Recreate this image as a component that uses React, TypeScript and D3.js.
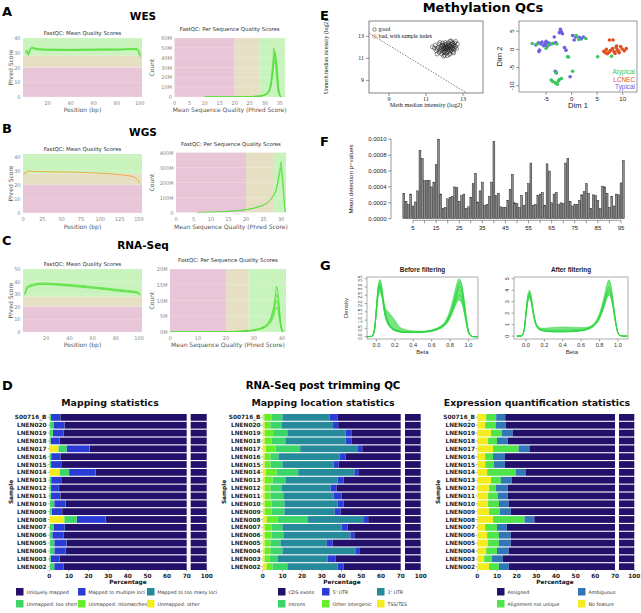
import React from 'react';
import * as d3 from 'd3';

const SANS = "'DejaVu Sans', Verdana, sans-serif";
const HELV = "'Liberation Sans', Arial, Helvetica, sans-serif";
const SERIF = "'Liberation Serif', 'Times New Roman', serif";

const QC_GREEN = '#c8f3bd';
const QC_BEIGE = '#e7dfc4';
const QC_PINK = '#e8c5d7';
const QC_LINE = '#55e03a';
const WGS_LINE = '#f0a22e';

// ===== A: WES =====
const wesMeanPos = [1, 2, 3, 4, 5, 6, 8, 10, 15, 20, 30, 40, 50, 60, 70, 80, 90, 95, 98, 99, 100, 101];
const wesMeanL1 = [30, 31.5, 29, 30.5, 32.8, 33.3, 33, 32.6, 32.2, 32, 32, 31.9, 32, 32.1, 32.2, 32.1, 32.4, 32.5, 32.2, 31, 29, 28];
const wesMeanL2 = [29.5, 30.5, 28, 30, 32.2, 32.8, 32.6, 32.2, 31.8, 31.7, 31.6, 31.5, 31.6, 31.7, 31.8, 31.8, 32.1, 32.2, 31.8, 30.5, 28, 27];
const wesMeanL3 = [30.5, 31.8, 29.5, 31, 33.3, 33.8, 33.4, 33, 32.6, 32.4, 32.4, 32.3, 32.4, 32.5, 32.6, 32.5, 32.8, 32.9, 32.6, 31.5, 29.5, 29];
const wesSeqQ = [10, 15, 20, 22, 24, 26, 28, 29, 30, 30.5, 31, 31.5, 32, 32.5, 33, 33.5, 34, 34.5, 35, 35.5];
const wesSeqL1 = [0, 0.05, 0.1, 0.2, 0.3, 0.5, 1, 1.5, 2.5, 3.5, 5, 8, 15, 30, 50, 38, 15, 4, 0.8, 0];
const wesSeqL2 = [0, 0.05, 0.1, 0.2, 0.3, 0.5, 0.9, 1.3, 2.2, 3, 4.5, 7, 12, 24, 40, 46, 28, 8, 1.5, 0];
const wesSeqL3 = [0, 0.05, 0.1, 0.2, 0.3, 0.5, 0.8, 1.2, 2, 2.8, 4, 6, 11, 22, 36, 44, 35, 12, 2, 0];
const wesSeqL4 = [0, 0.05, 0.1, 0.2, 0.3, 0.4, 0.7, 1, 1.8, 2.5, 3.5, 5.5, 10, 20, 34, 38, 24, 7, 1, 0];

// ===== B: WGS =====
const wgsMeanPos = [1, 2, 3, 5, 8, 10, 15, 20, 30, 40, 50, 60, 70, 80, 90, 100, 110, 120, 130, 140, 145, 148, 150, 151];
const wgsMeanL1 = [27.5, 28.8, 27.8, 29.6, 29.8, 29.7, 29.6, 29.5, 29.4, 29.3, 29.2, 29.1, 29, 28.8, 28.6, 28.3, 28, 27.6, 27, 26.2, 25.3, 24, 22, 21];
const wgsSeqQ = [6, 8, 10, 12, 15, 18, 20, 22, 24, 25, 26, 27, 28, 28.5, 29, 29.5, 30, 30.5, 31, 31.3];
const wgsSeqL1 = [0, 1, 2, 4, 8, 14, 20, 28, 42, 50, 65, 88, 120, 150, 200, 270, 340, 220, 40, 0];
const wgsSeqL2 = [0, 1, 2, 4, 8, 13, 19, 27, 40, 48, 62, 84, 115, 140, 185, 250, 300, 180, 30, 0];

// ===== C: RNA-Seq =====
const rnaMeanPos = [1, 2, 3, 4, 5, 6, 8, 10, 12, 15, 20, 25, 30, 40, 50, 60, 70, 80, 90, 95, 98, 100, 101];
const rnaMeanL1 = [30, 31, 34, 35.5, 36, 36.5, 37, 37.5, 38, 38.2, 38.2, 38, 37.7, 37, 36.3, 35.3, 34.3, 33.3, 32.3, 31.8, 31.3, 30.5, 29.5];
const rnaMeanL2 = [31, 32, 35, 36.3, 36.8, 37.2, 37.7, 38.2, 38.6, 38.8, 38.8, 38.6, 38.3, 37.6, 36.9, 35.9, 34.9, 33.9, 32.9, 32.4, 31.9, 31.2, 30.2];
const rnaMeanL3 = [29.5, 30.5, 33.3, 35, 35.5, 36, 36.5, 37, 37.4, 37.7, 37.7, 37.5, 37.2, 36.5, 35.5, 34.8, 33.8, 32.6, 31.8, 31.3, 30.8, 30, 29];
const rnaSeqQ = [0, 5, 10, 15, 20, 22, 24, 26, 28, 30, 32, 34, 35, 36, 37, 37.5, 38, 38.5, 39, 39.5, 40, 40.5];
const rnaSeqL1 = [0, 0, 0.02, 0.05, 0.1, 0.15, 0.2, 0.3, 0.45, 0.7, 1.1, 2, 3, 4.5, 8, 11, 14.5, 13, 8, 3, 0.5, 0];
const rnaSeqL2 = [0, 0, 0.02, 0.05, 0.1, 0.14, 0.18, 0.27, 0.4, 0.62, 1, 1.8, 2.7, 4, 7, 9.5, 12, 11, 7, 2.5, 0.4, 0];
const rnaSeqL3 = [0, 0, 0.02, 0.04, 0.08, 0.12, 0.16, 0.24, 0.36, 0.55, 0.9, 1.6, 2.4, 3.5, 6, 8.5, 10, 9, 5.5, 2, 0.3, 0];
const rnaSeqL4 = [0, 0, 0.02, 0.04, 0.07, 0.1, 0.14, 0.2, 0.3, 0.5, 0.8, 1.4, 2.1, 3, 5, 7, 8, 7, 4.5, 1.6, 0.3, 0];

// ===== D: RNA-Seq post trimming QC =====
const samples = ['S00716_B', 'LNEN020', 'LNEN019', 'LNEN018', 'LNEN017', 'LNEN016', 'LNEN015', 'LNEN014', 'LNEN013', 'LNEN012', 'LNEN011', 'LNEN010', 'LNEN009', 'LNEN008', 'LNEN007', 'LNEN006', 'LNEN005', 'LNEN004', 'LNEN003', 'LNEN002'];
const mapUnmappedOther = [0.2, 0.3, 0.2, 0.1, 4.7, 0.2, 0.2, 5.3, 0.2, 0.1, 0.1, 0.4, 0.2, 7.7, 0.3, 0.2, 0.4, 0.4, 0.1, 0.4];
const mapUnmappedShort = [0.6, 1.8, 1.6, 0.6, 4.1, 0.7, 0.6, 4.7, 0.7, 0.7, 0.7, 2.1, 1.0, 6.3, 1.8, 1.3, 2.1, 2.1, 0.6, 2.1];
const mapUnmappedMismatch = [0.1, 0.1, 0.1, 0.1, 0.1, 0.1, 0.1, 0.1, 0.1, 0.1, 0.1, 0.1, 0.1, 0.1, 0.1, 0.1, 0.1, 0.1, 0.1, 0.1];
const mapMultiple = [4.7, 5.5, 5.5, 4.5, 11.6, 4.6, 5.1, 13.4, 5.0, 4.0, 4.7, 5.6, 5.2, 14.7, 5.7, 5.8, 6.2, 5.8, 4.5, 4.8];
const mapTooMany = [0.1, 0.1, 0.1, 0.1, 0.1, 0.1, 0.1, 0.1, 0.1, 0.1, 0.1, 0.1, 0.1, 0.1, 0.1, 0.1, 0.1, 0.1, 0.1, 0.1];
const mapUnique = [94.3, 92.2, 92.5, 94.6, 79.4, 94.3, 93.9, 76.4, 93.9, 95.0, 94.3, 91.7, 93.4, 71.1, 92.0, 92.5, 91.1, 91.5, 94.6, 92.5];
const locTss = [0.8, 1, 1, 1, 1.5, 1, 1, 1.5, 1, 1, 1, 1, 1, 2, 1, 1, 1, 1, 1, 2];
const locIntergenic = [3.7, 3, 4.3, 3.5, 5, 3, 3, 5.5, 4, 3, 3, 3.5, 3.5, 5.5, 3.5, 3.5, 3, 3, 2.5, 3];
const locIntrons = [5.5, 5.5, 7.2, 7, 12.5, 4, 6, 11, 6.5, 5.5, 6.5, 6.5, 6.5, 15.5, 5.5, 6, 5, 6, 4, 7.5];
const locUtr3 = [24, 26.2, 29.5, 30.5, 29, 31, 26, 28.5, 26.5, 25, 25.5, 27, 25.5, 28, 30, 34, 23.5, 37, 25.5, 25.5];
const locUtr5 = [4, 2.6, 3, 3, 2.5, 3, 2.5, 2, 3, 3, 4, 3, 3, 2.5, 3, 2, 3, 2, 4, 3];
const locCds = [62, 61.7, 55, 55, 49.5, 58, 61.5, 51.5, 59, 62.5, 60, 59, 60.5, 46.5, 57, 53.5, 64.5, 51, 63, 59];
const exNoFeature = [4.5, 4, 7, 5.5, 8, 4, 4, 5, 7, 6, 5.5, 5.5, 6, 8, 4, 5, 5.5, 4.5, 3.5, 6];
const exNotUnique = [5.1, 5.5, 5.5, 4.5, 13, 4, 4.5, 14.5, 5, 3.5, 5, 5.5, 5.5, 16, 6, 6, 5.5, 5.5, 4, 5];
const exAmbiguous = [4.6, 5, 5.5, 5.5, 5.5, 6, 5.5, 5, 5.5, 6, 5, 5, 5.5, 5, 5, 6, 6, 6, 5.5, 5];
const exAssigned = [85.8, 85.5, 82, 84.5, 73.5, 86, 86, 75.5, 82.5, 84.5, 84.5, 84, 83, 71, 85, 83, 83, 84, 87, 84];
const pctTicks = [0, 10, 20, 30, 40, 50, 60, 70];

// ===== E: Methylation QC =====
const eGoodX = [11.35, 11.45, 11.5, 11.55, 11.6, 11.65, 11.7, 11.7, 11.75, 11.8, 11.8, 11.85, 11.85, 11.9, 11.9, 11.95, 11.95, 12.0, 12.0, 12.0, 12.05, 12.05, 12.1, 12.1, 12.1, 12.15, 12.15, 12.2, 12.2, 12.2, 12.25, 12.25, 12.3, 12.3, 12.3, 12.35, 12.35, 12.4, 12.4, 12.4, 12.45, 12.45, 12.5, 12.5, 12.55, 12.55, 12.6, 12.6, 12.65, 12.7, 11.95, 12.15, 12.25, 11.75, 11.6, 12.05, 12.5, 12.35, 11.9, 12.2, 12.0, 12.1, 12.3, 11.85, 12.45];
const eGoodY = [12.05, 11.95, 12.2, 11.7, 11.85, 12.0, 11.55, 12.3, 11.8, 11.65, 12.05, 11.4, 11.9, 12.15, 11.75, 11.55, 12.0, 11.85, 12.25, 11.3, 11.7, 12.05, 11.9, 11.5, 12.3, 11.8, 12.1, 11.6, 11.95, 12.4, 11.75, 12.15, 11.9, 11.45, 12.55, 12.05, 11.7, 12.25, 11.85, 12.45, 11.6, 12.0, 12.2, 11.8, 12.4, 11.95, 12.1, 12.55, 11.9, 12.3, 11.2, 11.25, 11.35, 12.45, 11.4, 12.45, 11.5, 12.6, 12.4, 12.2, 11.6, 12.0, 12.1, 12.2, 12.35];
const eCutoffX = [7.92, 13.2];
const eCutoffY = [13.3, 7.86];
const mdsTypicalX = [-7.0, -6.5, -6.0, -5.5, -5.8, -5.2, -4.9, -4.5, -4.2, -5.0, -4.8, -6.3, -6.4, -3.6, -3.1, -2.2, -2.0, -2.4, -1.8, -2.1, 0.2, 0.8, 1.5, 1.9, 0.5, 2.3, -1.4, -1.1, -3.2, -3.0, -0.3, -3.4];
const mdsTypicalY = [1.2, 1.8, 1.5, 1.0, 2.0, 1.6, 1.2, 1.8, 1.4, 2.2, 0.8, -0.2, -0.6, 1.6, 1.9, 5.5, 4.8, 4.6, 4.3, 5.0, 3.8, 3.4, 3.3, 2.9, 2.6, 3.4, 0.5, -0.2, -6.0, -6.5, -7.5, 3.4];
const mdsAtypicalX = [-7.7, -5.0, -4.5, -6.8, -3.8, -2.9, 2.8, 0.9, 1.4, -0.8, -0.6, -3.7, -3.2, -2.8, -2.4, -2.0, -3.0, 0.2, 5.1, 7.8, -4.0, -2.6];
const mdsAtypicalY = [1.6, 0.3, 1.2, 1.4, 1.6, 1.5, 3.0, 3.8, 2.7, -2.0, -2.1, -8.8, -9.2, -9.6, -8.3, -8.0, -6.3, -6.0, -2.0, -1.9, -8.4, -8.7];
const mdsLcnecX = [6.3, 6.8, 7.3, 7.6, 8.0, 8.3, 8.7, 9.0, 9.3, 9.6, 9.9, 10.3, 10.7, 8.5, 7.0, 7.4, 8.1, 9.2, 6.6, 8.8];
const mdsLcnecY = [-0.5, 0.0, -0.8, -0.3, 0.2, -0.6, 0.5, -0.2, -0.9, 0.8, 0.1, -0.4, 0.2, -1.1, -1.2, 2.6, 2.6, -0.5, -0.9, 0.9];

// ===== F: Mean detection p-values =====
const detP = [0.00032, 0.00022, 0.00018, 0.00031, 0.00016, 0.00021, 0.00035, 0.00086, 0.00076, 0.00048, 0.00048, 0.00048, 0.0004, 0.00046, 0.00068, 0.001,
  0.00031, 0.00013, 0.00014, 0.00025, 0.00027, 0.00028, 0.0004, 0.00039, 0.00022, 0.00029, 0.00031, 0.00013, 0.00015, 0.00027, 0.00044, 0.00057,
  0.00021, 0.00035, 0.00046, 0.00017, 0.00018, 0.00028, 0.00046, 0.00097, 0.00029, 0.00032, 0.00015, 0.00014, 0.00014, 0.00023, 0.00037, 0.00056,
  0.0002, 0.00019, 0.00014, 0.00029, 0.00017, 0.00033, 0.00044, 0.0007, 0.00017, 0.00018, 0.00029, 0.00031, 0.00033, 0.00017, 0.00069, 0.0006,
  0.0002, 0.00031, 0.00033, 0.00018, 0.0002, 0.00019, 0.0007, 0.00076, 0.00022, 0.00016, 0.00018, 0.00018, 0.00023, 0.0003, 0.00034, 0.00044,
  0.00032, 0.00013, 0.0003, 0.00029, 0.00023, 0.00013, 0.00041, 0.0004, 0.00032, 0.00014, 0.00028, 0.00016, 0.00031, 0.0003, 0.00045, 0.00073];
const detPTicks = [0, 0.0002, 0.0004, 0.0006, 0.0008, 0.001];
const detPTickLabels = ['0.0000', '0.0002', '0.0004', '0.0006', '0.0008', '0.0010'];

// ===== G: Beta densities =====
const betaX = [-0.1, -0.05, -0.02, 0, 0.02, 0.04, 0.06, 0.08, 0.1, 0.13, 0.16, 0.2, 0.25, 0.3, 0.4, 0.5, 0.6, 0.65, 0.7, 0.75, 0.8, 0.83, 0.86, 0.88, 0.9, 0.92, 0.94, 0.96, 0.98, 1.0, 1.03, 1.06, 1.1];
const beforeD1 = [0, 0.02, 0.5, 1.8, 3.1, 3.45, 3.0, 2.2, 1.5, 0.9, 0.6, 0.42, 0.33, 0.3, 0.28, 0.3, 0.4, 0.5, 0.65, 0.95, 1.6, 2.2, 2.9, 3.3, 3.5, 3.3, 2.7, 1.8, 1.0, 0.35, 0.05, 0, 0];
const beforeD2 = [0, 0.02, 0.45, 1.7, 2.9, 3.2, 2.7, 1.9, 1.3, 0.8, 0.55, 0.4, 0.32, 0.28, 0.27, 0.29, 0.37, 0.46, 0.6, 0.85, 1.4, 1.9, 2.5, 2.9, 3.1, 3.0, 2.5, 1.7, 0.9, 0.3, 0.04, 0, 0];
const beforeD3 = [0, 0.02, 0.4, 1.6, 2.7, 3.0, 2.5, 1.7, 1.1, 0.7, 0.5, 0.38, 0.3, 0.27, 0.26, 0.28, 0.35, 0.42, 0.55, 0.75, 1.2, 1.65, 2.2, 2.6, 2.8, 2.75, 2.3, 1.6, 0.85, 0.3, 0.04, 0, 0];
const beforeD4 = [0, 0.02, 0.45, 1.65, 2.8, 3.1, 2.6, 1.8, 1.2, 0.75, 0.5, 0.36, 0.28, 0.25, 0.24, 0.26, 0.32, 0.4, 0.5, 0.7, 1.1, 1.5, 2.0, 2.35, 2.5, 2.45, 2.1, 1.5, 0.8, 0.3, 0.04, 0, 0];
const beforeD5 = [0, 0.02, 0.4, 1.5, 2.6, 2.9, 2.45, 1.75, 1.2, 0.8, 0.58, 0.45, 0.36, 0.3, 0.28, 0.3, 0.38, 0.46, 0.6, 0.85, 1.35, 1.75, 2.2, 2.45, 2.5, 2.3, 1.9, 1.3, 0.7, 0.25, 0.03, 0, 0];
const beforeD6 = [0, 0.02, 0.4, 1.4, 2.4, 2.7, 2.4, 2.0, 1.7, 1.5, 1.3, 1.0, 0.6, 0.45, 0.35, 0.33, 0.4, 0.48, 0.6, 0.8, 1.2, 1.55, 1.9, 2.1, 2.2, 2.1, 1.8, 1.3, 0.7, 0.25, 0.03, 0, 0];
const beforeD7 = [0, 0.02, 0.5, 1.75, 3.0, 3.3, 2.8, 2.0, 1.35, 0.85, 0.58, 0.4, 0.31, 0.27, 0.25, 0.27, 0.34, 0.42, 0.56, 0.8, 1.3, 1.8, 2.4, 2.8, 3.0, 2.95, 2.6, 1.9, 1.05, 0.4, 0.06, 0, 0];
const beforeD8 = [0, 0.02, 0.42, 1.6, 2.75, 3.05, 2.55, 1.8, 1.2, 0.75, 0.52, 0.37, 0.29, 0.26, 0.25, 0.27, 0.33, 0.41, 0.54, 0.78, 1.25, 1.75, 2.35, 2.8, 3.3, 3.25, 2.75, 1.9, 1.0, 0.35, 0.05, 0, 0];
const afterD1 = [0, 0.02, 0.6, 2.2, 3.6, 4.0, 3.4, 2.3, 1.4, 0.8, 0.6, 0.5, 0.45, 0.43, 0.42, 0.44, 0.52, 0.6, 0.8, 1.2, 2.0, 2.8, 3.8, 4.5, 4.9, 4.6, 3.6, 2.3, 1.1, 0.35, 0.05, 0, 0];
const afterD2 = [0, 0.02, 0.55, 2.0, 3.4, 3.8, 3.2, 2.1, 1.3, 0.75, 0.55, 0.47, 0.42, 0.4, 0.4, 0.42, 0.5, 0.58, 0.75, 1.1, 1.8, 2.5, 3.4, 4.0, 4.3, 4.1, 3.3, 2.1, 1.0, 0.32, 0.04, 0, 0];
const afterD3 = [0, 0.02, 0.5, 1.9, 3.2, 3.6, 3.0, 2.0, 1.2, 0.7, 0.52, 0.45, 0.4, 0.38, 0.38, 0.4, 0.47, 0.55, 0.7, 1.0, 1.65, 2.3, 3.1, 3.6, 3.9, 3.75, 3.0, 1.95, 0.95, 0.3, 0.04, 0, 0];
const afterD4 = [0, 0.02, 0.45, 1.75, 3.0, 3.35, 2.8, 1.85, 1.1, 0.65, 0.5, 0.43, 0.38, 0.36, 0.36, 0.38, 0.45, 0.52, 0.66, 0.95, 1.5, 2.1, 2.8, 3.3, 3.55, 3.4, 2.75, 1.8, 0.9, 0.28, 0.04, 0, 0];
const afterD5 = [0, 0.02, 0.5, 1.85, 3.1, 3.5, 2.95, 2.0, 1.25, 0.75, 0.58, 0.52, 0.5, 0.5, 0.52, 0.55, 0.6, 0.66, 0.8, 1.1, 1.7, 2.35, 3.15, 3.7, 4.0, 3.8, 3.0, 1.9, 0.9, 0.28, 0.03, 0, 0];
const afterD6 = [0, 0.02, 0.52, 1.95, 3.3, 3.7, 3.1, 2.05, 1.25, 0.72, 0.54, 0.46, 0.41, 0.39, 0.39, 0.41, 0.49, 0.57, 0.73, 1.05, 1.75, 2.45, 3.3, 3.9, 4.2, 4.0, 3.2, 2.05, 0.98, 0.31, 0.04, 0, 0];
const afterD7 = [0, 0.02, 0.5, 1.8, 3.0, 3.3, 2.85, 2.0, 1.3, 0.85, 0.7, 0.68, 0.72, 0.76, 0.8, 0.78, 0.74, 0.75, 0.85, 1.1, 1.6, 2.2, 2.9, 3.4, 3.7, 3.5, 2.8, 1.8, 0.9, 0.28, 0.03, 0, 0];

// ---------- components ----------
type QcProps = {
  box: [number, number, number, number];
  xDom: [number, number]; yDom: [number, number];
  bandAxis: 'x' | 'y';
  xTicks: number[]; yTicks: number[]; yTickText: string[];
  xs: number[]; lines: number[][]; scale: number; color: string; lineWidth: number; smooth: boolean;
  title: string; titleY: number; xLabel: string; yLabel: string; yLabelX: number;
  tickY: number; xLabelY: number;
};

function QcPlot(p: QcProps) {
  const [x0, y0, x1, y1] = p.box;
  const x = d3.scaleLinear().domain(p.xDom).range([x0, x1]);
  const y = d3.scaleLinear().domain(p.yDom).range([y1, y0]);
  const bands = [
    { lo: 28, hi: Infinity, c: QC_GREEN },
    { lo: 20, hi: 28, c: QC_BEIGE },
    { lo: -Infinity, hi: 20, c: QC_PINK },
  ];
  const line = d3.line<number>()
    .x((_, i) => x(p.xs[i]))
    .y(d => y(d * p.scale))
    .curve(p.smooth ? d3.curveMonotoneX : d3.curveLinear);
  const cx = (x0 + x1) / 2;
  const cid = `clip${Math.round(x0)}_${Math.round(y0)}`;
  return (
    <g>
      {bands.map((b, i) => {
        if (p.bandAxis === 'y') {
          const top = y(Math.min(b.hi, p.yDom[1]));
          const bot = y(Math.max(b.lo, p.yDom[0]));
          return <rect key={i} x={x0} y={top} width={x1 - x0} height={bot - top} fill={b.c} />;
        }
        const l = x(Math.max(b.lo, p.xDom[0]));
        const r = x(Math.min(b.hi, p.xDom[1]));
        return <rect key={i} x={l} y={y0} width={r - l} height={y1 - y0} fill={b.c} />;
      })}
      {p.yTicks.map((t, i) => (
        <line key={'g' + i} x1={x0} x2={x1} y1={y(t)} y2={y(t)} stroke="#ffffff" strokeOpacity={0.35} strokeWidth={0.6} />
      ))}
      <clipPath id={cid}><rect x={x0} y={y0 - 2} width={x1 - x0} height={y1 - y0 + 2} /></clipPath>
      <g clipPath={`url(#${cid})`}>
        {p.lines.map((l, i) => (
          <path key={i} d={line(l) || ''} fill="none" stroke={p.color} strokeWidth={p.lineWidth} strokeOpacity={0.85} />
        ))}
      </g>
      <text x={cx} y={p.titleY} textAnchor="middle" fontFamily={SANS} fontSize={5.4} fill="#333">{p.title}</text>
      {p.yTicks.map((t, i) => (
        <text key={'yt' + i} x={x0 - 2.5} y={y(t) + 2} textAnchor="end" fontFamily={SANS} fontSize={5} fill="#888">{p.yTickText[i]}</text>
      ))}
      {p.xTicks.map((t, i) => (
        <text key={'xt' + i} x={x(t)} y={p.tickY} textAnchor="middle" fontFamily={SANS} fontSize={5} fill="#888">{t}</text>
      ))}
      <text x={cx} y={p.xLabelY} textAnchor="middle" fontFamily={SANS} fontSize={6} fill="#555">{p.xLabel}</text>
      <text transform={`translate(${p.yLabelX},${(y0 + y1) / 2}) rotate(-90)`} textAnchor="middle" fontFamily={SANS} fontSize={6} fill="#555">{p.yLabel}</text>
    </g>
  );
}

const D_TOP = 414;
const D_BOT = 570;

type StackProps = {
  title: string; titleX: number; labelX: number;
  xL0: number; xL70: number; xR0: number; xR1: number;
  sampleX: number; pctX: number;
  series: number[][]; colors: string[];
  legend: { label: string; color: string; x: number; row: number }[];
};

function StackPlot(p: StackProps) {
  const rows = d3.scaleBand<string>().domain(samples).range([D_TOP, D_BOT]).paddingInner(0.14);
  const xl = d3.scaleLinear().domain([0, 70]).range([p.xL0, p.xL70]);
  const xr = d3.scaleLinear().domain([90, 100]).range([p.xR0, p.xR1]);
  const rects: JSX.Element[] = [];
  samples.forEach((s, i) => {
    let acc = 0;
    p.series.forEach((ser, k) => {
      const a = acc, b = acc + ser[i];
      acc = b;
      if (a < 70) {
        const l = xl(a), r = xl(Math.min(b, 70));
        rects.push(<rect key={`l${i}_${k}`} x={l} y={rows(s)} width={Math.max(0, r - l)} height={rows.bandwidth()} fill={p.colors[k]} />);
      }
      if (b > 90) {
        const l = xr(Math.max(a, 90)), r = xr(Math.min(b, 100));
        rects.push(<rect key={`r${i}_${k}`} x={l} y={rows(s)} width={Math.max(0, r - l)} height={rows.bandwidth()} fill={p.colors[k]} />);
      }
    });
  });
  const tickY = D_BOT + 7.5;
  return (
    <g>
      <text x={p.titleX} y={405.5} textAnchor="middle" fontFamily={SANS} fontWeight="bold" fontSize={9.4} fill="#111">{p.title}</text>
      {rects}
      {samples.map(s => (
        <g key={s}>
          <line x1={p.xL0 - 1.5} x2={p.xL0} y1={rows(s)! + rows.bandwidth() / 2} y2={rows(s)! + rows.bandwidth() / 2} stroke="#333" strokeWidth={0.4} />
          <text x={p.labelX - 0.5} y={rows(s)! + rows.bandwidth() / 2 + 2.1} textAnchor="end" fontFamily={SANS} fontWeight="bold" fontSize={5.8} fill="#222">{s}</text>
        </g>
      ))}
      {pctTicks.map(t => (
        <g key={t}>
          <line x1={xl(t)} x2={xl(t)} y1={D_BOT} y2={D_BOT + 1.5} stroke="#333" strokeWidth={0.4} />
          <text x={xl(t)} y={tickY} textAnchor="middle" fontFamily={SANS} fontWeight="bold" fontSize={5.8} fill="#222">{t}</text>
        </g>
      ))}
      <line x1={xr(100)} x2={xr(100)} y1={D_BOT} y2={D_BOT + 1.5} stroke="#333" strokeWidth={0.4} />
      <text x={xr(100)} y={tickY} textAnchor="middle" fontFamily={SANS} fontWeight="bold" fontSize={5.8} fill="#222">100</text>
      <text x={p.pctX} y={D_BOT + 14} textAnchor="middle" fontFamily={SANS} fontWeight="bold" fontSize={5.8} fill="#111">Percentage</text>
      <text transform={`translate(${p.sampleX},${(D_TOP + D_BOT) / 2}) rotate(-90)`} textAnchor="middle" fontFamily={SANS} fontWeight="bold" fontSize={5.8} fill="#111">Sample</text>
      {p.legend.map(l => (
        <g key={l.label}>
          <rect x={l.x} y={l.row === 0 ? 588 : 600} width={7.5} height={7.5} fill={l.color} />
          <text x={l.x + 10.5} y={l.row === 0 ? 593.6 : 605.6} fontFamily={SANS} fontSize={4.8} fill="#333">{l.label}</text>
        </g>
      ))}
    </g>
  );
}

const NAVY = '#23106b';
const BLUE = '#2b3bd6';
const TEAL = '#258b9a';
const GREEN = '#3bd56a';
const LIME = '#66ee28';
const YELLOW = '#f4ec1e';
const STEEL = '#3176b6';
const BRIGHT = '#4ee44a';

function PanelE() {
  const [bx0, by0, bx1, by1] = [369, 21, 483, 93];
  const x = d3.scaleLinear().domain([7.92, 14.08]).range([bx0, bx1]);
  const y = d3.scaleLinear().domain([7.86, 14.4]).range([by1, by0]);
  const ticks = [9, 11, 13];
  const [mx0, my0, mx1, my1] = [519, 21, 637, 92];
  const mx = d3.scaleLinear().domain([-10.3, 12.8]).range([mx0, mx1]);
  const my = d3.scaleLinear().domain([-11.7, 7.8]).range([my1, my0]);
  const groups = [
    { xs: mdsTypicalX, ys: mdsTypicalY, c: '#6a62e0', name: 'Typical' },
    { xs: mdsAtypicalX, ys: mdsAtypicalY, c: '#38c95a', name: 'Atypical' },
    { xs: mdsLcnecX, ys: mdsLcnecY, c: '#e0501e', name: 'LCNEC' },
  ];
  return (
    <g>
      <rect x={bx0} y={by0} width={bx1 - bx0} height={by1 - by0} fill="none" stroke="#333" strokeWidth={0.6} />
      {ticks.map(t => (
        <g key={t}>
          <line x1={bx0 - 3} x2={bx0} y1={y(t)} y2={y(t)} stroke="#333" strokeWidth={0.5} />
          <text x={bx0 - 5} y={y(t) + 2} textAnchor="end" fontFamily={SERIF} fontSize={6} fill="#222">{t}</text>
          <line x1={x(t)} x2={x(t)} y1={by1} y2={by1 + 3} stroke="#333" strokeWidth={0.5} />
          <text x={x(t)} y={by1 + 8} textAnchor="middle" fontFamily={SERIF} fontSize={6} fill="#222">{t}</text>
        </g>
      ))}
      <text x={426} y={by1 + 14} textAnchor="middle" fontFamily={SERIF} fontSize={6.2} fill="#222">Meth median intensity (log2)</text>
      <text transform={`translate(328,${(by0 + by1) / 2}) rotate(-90)`} textAnchor="middle" fontFamily={SERIF} fontSize={5.8} fill="#222">Unmeth median intensity (log2)</text>
      <line x1={x(eCutoffX[0])} y1={y(eCutoffY[0])} x2={x(eCutoffX[1])} y2={y(eCutoffY[1])} stroke="#333" strokeWidth={0.6} strokeDasharray="1.6,1.4" />
      {eGoodX.map((v, i) => (
        <circle key={i} cx={x(v)} cy={y(eGoodY[i])} r={2} fill="none" stroke="#111" strokeWidth={0.45} />
      ))}
      <circle cx={374.5} cy={29.5} r={1.7} fill="none" stroke="#111" strokeWidth={0.5} />
      <text x={378.5} y={31.4} fontFamily={SERIF} fontSize={5.8} fill="#111">good</text>
      <circle cx={374.5} cy={36.5} r={1.7} fill="none" stroke="#d22" strokeWidth={0.5} />
      <text x={378.5} y={38.4} fontFamily={SERIF} fontSize={5.8} fill="#111">bad, with sample index</text>

      <rect x={mx0} y={my0} width={mx1 - mx0} height={my1 - my0} fill="none" stroke="#555" strokeWidth={0.6} />
      {[-5, 0, 5, 10].map(t => (
        <g key={'mx' + t}>
          <line x1={mx(t)} x2={mx(t)} y1={my1} y2={my1 + 3} stroke="#333" strokeWidth={0.5} />
          <text x={mx(t)} y={my1 + 8.5} textAnchor="middle" fontFamily={HELV} fontSize={6} fill="#222">{t}</text>
        </g>
      ))}
      {[-10, -5, 0, 5].map(t => (
        <g key={'my' + t}>
          <line x1={mx0 - 3} x2={mx0} y1={my(t)} y2={my(t)} stroke="#333" strokeWidth={0.5} />
          <text transform={`translate(513.5,${my(t)}) rotate(-90)`} textAnchor="middle" fontFamily={HELV} fontSize={6} fill="#222">{t}</text>
        </g>
      ))}
      <text x={578} y={my1 + 16} textAnchor="middle" fontFamily={HELV} fontSize={7.6} fill="#222">Dim 1</text>
      <text transform={`translate(502,${(my0 + my1) / 2}) rotate(-90)`} textAnchor="middle" fontFamily={HELV} fontSize={7.6} fill="#222">Dim 2</text>
      {groups.map(g => g.xs.map((v, i) => (
        <circle key={g.name + i} cx={mx(v)} cy={my(g.ys[i])} r={1.8} fill={g.c} />
      )))}
      <text x={635} y={74} textAnchor="end" fontFamily={HELV} fontSize={6.4} fill="#38c95a">Atypical</text>
      <text x={635} y={81.5} textAnchor="end" fontFamily={HELV} fontSize={6.4} fill="#e0501e">LCNEC</text>
      <text x={635} y={89} textAnchor="end" fontFamily={HELV} fontSize={6.4} fill="#6a62e0">Typical</text>
    </g>
  );
}

function PanelF() {
  const idx = detP.map((_, i) => i + 1);
  const x = d3.scaleBand<number>().domain(idx).range([402.4, 624.7]).paddingInner(0.2).paddingOuter(0.2);
  const y = d3.scaleLinear().domain([0, 0.001]).range([218.7, 139.2]);
  const tickIdx = idx.filter(i => i % 5 === 0);
  const axY = 220.3;
  return (
    <g>
      {detP.map((v, i) => (
        <rect key={i} x={x(i + 1)} y={y(v)} width={x.bandwidth()} height={y(0) - y(v)} fill="#8e8e8e" stroke="#1c1c1c" strokeWidth={0.45} />
      ))}
      <line x1={391} x2={391} y1={y(0)} y2={y(0.001)} stroke="#333" strokeWidth={0.5} />
      {detPTicks.map((t, i) => (
        <g key={i}>
          <line x1={388} x2={391} y1={y(t)} y2={y(t)} stroke="#333" strokeWidth={0.5} />
          <text x={386.5} y={y(t) + 2} textAnchor="end" fontFamily={HELV} fontSize={6} fill="#222">{detPTickLabels[i]}</text>
        </g>
      ))}
      <line x1={x(5)! + x.bandwidth() / 2} x2={x(95)! + x.bandwidth() / 2} y1={axY} y2={axY} stroke="#333" strokeWidth={0.5} />
      {tickIdx.map(t => (
        <g key={t}>
          <line x1={x(t)! + x.bandwidth() / 2} x2={x(t)! + x.bandwidth() / 2} y1={axY} y2={axY + 3} stroke="#333" strokeWidth={0.5} />
          {t % 10 === 5 ? <text x={x(t)! + x.bandwidth() / 2} y={axY + 10} textAnchor="middle" fontFamily={HELV} fontSize={6} fill="#222">{t}</text> : null}
        </g>
      ))}
      <text transform="translate(353,179) rotate(-90)" textAnchor="middle" fontFamily={HELV} fontSize={6.2} fill="#222">Mean detection p−values</text>
    </g>
  );
}

const G_TOP = 277;
const G_BOT = 339;

function DensityPlot(p: { box: [number, number]; xDom: [number, number]; yDom: [number, number]; yTicks: number[]; yFmt: (v: number) => string; lines: number[][]; title: string; tickLabelX: number; tickFont: number }) {
  const [x0, x1] = p.box;
  const y0 = G_TOP, y1 = G_BOT;
  const x = d3.scaleLinear().domain(p.xDom).range([x0, x1]);
  const y = d3.scaleLinear().domain(p.yDom).range([y1, y0]);
  const hi = betaX.map((_, i) => d3.max(p.lines, l => l[i]) as number);
  const lo = betaX.map((_, i) => d3.min(p.lines, l => l[i]) as number);
  const area = d3.area<number>().x((_, i) => x(betaX[i])).y0((_, i) => y(lo[i])).y1(d => y(d)).curve(d3.curveMonotoneX);
  const line = d3.line<number>().x((_, i) => x(betaX[i])).y(d => y(d)).curve(d3.curveMonotoneX);
  const cid = 'dclip' + Math.round(x0);
  return (
    <g>
      <clipPath id={cid}><rect x={x0} y={y0} width={x1 - x0} height={y1 - y0} /></clipPath>
      <g clipPath={`url(#${cid})`}>
        <path d={area(hi) || ''} fill="#3ddc4c" fillOpacity={0.7} />
        {p.lines.map((l, i) => (
          <path key={i} d={line(l) || ''} fill="none" stroke="#2fd642" strokeWidth={0.7} strokeOpacity={0.8} />
        ))}
      </g>
      <rect x={x0} y={y0} width={x1 - x0} height={y1 - y0} fill="none" stroke="#777" strokeWidth={0.6} />
      <text x={(x0 + x1) / 2} y={G_TOP - 5} textAnchor="middle" fontFamily={HELV} fontWeight="bold" fontSize={6.4} fill="#222">{p.title}</text>
      {[0, 0.2, 0.4, 0.6, 0.8, 1.0].map(t => (
        <g key={t}>
          <line x1={x(t)} x2={x(t)} y1={y1} y2={y1 + 2.5} stroke="#555" strokeWidth={0.5} />
          <text x={x(t)} y={y1 + 8} textAnchor="middle" fontFamily={HELV} fontSize={5.6} fill="#333">{t.toFixed(1)}</text>
        </g>
      ))}
      {p.yTicks.map(t => (
        <g key={'y' + t}>
          <line x1={x0 - 2.5} x2={x0} y1={y(t)} y2={y(t)} stroke="#555" strokeWidth={0.5} />
          <text transform={`translate(${p.tickLabelX},${y(t)}) rotate(-90)`} textAnchor="middle" fontFamily={HELV} fontSize={p.tickFont} fill="#333">{p.yFmt(t)}</text>
        </g>
      ))}
      <text x={(x(0) + x(1)) / 2} y={y1 + 14.5} textAnchor="middle" fontFamily={HELV} fontSize={6} fill="#333">Beta</text>
    </g>
  );
}

const letter = (t: string, x: number, y: number) => (
  <text x={x} y={y} fontFamily={SANS} fontWeight="bold" fontSize={13} fill="#000">{t}</text>
);
const heading = (t: string, x: number, y: number, size = 10.5) => (
  <text x={x} y={y} textAnchor="middle" fontFamily={SANS} fontWeight="bold" fontSize={size} fill="#000">{t}</text>
);

export default function App() {
  return (
    <svg width={641} height={613} viewBox="0 0 641 613" style={{ position: 'absolute', left: 0, top: 0, background: '#fff' }}>
      <rect x={0} y={0} width={641} height={613} fill="#fff" />
      {/* A */}
      {letter('A', 2, 16)}
      {heading('WES', 143, 20)}
      <QcPlot box={[23, 38, 142, 97]} xDom={[-1.5, 102]} yDom={[0, 40]} bandAxis="y"
        xTicks={[20, 40, 60, 80, 100]} yTicks={[0, 10, 20, 30, 40]} yTickText={['0', '10', '20', '30', '40']}
        xs={wesMeanPos} lines={[wesMeanL1, wesMeanL2, wesMeanL3]} scale={1} color={QC_LINE} lineWidth={1} smooth={true}
        title="FastQC: Mean Quality Scores" titleY={34.5} xLabel="Position (bp)" yLabel="Phred Score" yLabelX={13}
        tickY={104.5} xLabelY={111.5} />
      <QcPlot box={[174.5, 38, 285, 97]} xDom={[0, 36.7]} yDom={[0, 60e6]} bandAxis="x"
        xTicks={[0, 5, 10, 15, 20, 25, 30, 35]} yTicks={[0, 10e6, 20e6, 30e6, 40e6, 50e6, 60e6]} yTickText={['0', '10M', '20M', '30M', '40M', '50M', '60M']}
        xs={wesSeqQ} lines={[wesSeqL1, wesSeqL2, wesSeqL3, wesSeqL4]} scale={1e6} color={QC_LINE} lineWidth={0.9} smooth={false}
        title="FastQC: Per Sequence Quality Scores" titleY={30.5} xLabel="Mean Sequence Quality (Phred Score)" yLabel="Count" yLabelX={154}
        tickY={104.5} xLabelY={111.5} />
      {/* B */}
      {letter('B', 2, 133)}
      {heading('WGS', 143, 136)}
      <QcPlot box={[23, 154, 142, 213]} xDom={[0, 154]} yDom={[0, 42]} bandAxis="y"
        xTicks={[0, 25, 50, 75, 100, 125, 150]} yTicks={[0, 10, 20, 30, 40]} yTickText={['0', '10', '20', '30', '40']}
        xs={wgsMeanPos} lines={[wgsMeanL1]} scale={1} color={WGS_LINE} lineWidth={1} smooth={true}
        title="FastQC: Mean Quality Scores" titleY={150.5} xLabel="Position (bp)" yLabel="Phred Score" yLabelX={13}
        tickY={220.5} xLabelY={228.5} />
      <QcPlot box={[176, 152.5, 286, 212.5]} xDom={[0, 31.4]} yDom={[0, 400e6]} bandAxis="x"
        xTicks={[0, 5, 10, 15, 20, 25, 30]} yTicks={[0, 100e6, 200e6, 300e6, 400e6]} yTickText={['0', '100M', '200M', '300M', '400M']}
        xs={wgsSeqQ} lines={[wgsSeqL1, wgsSeqL2]} scale={1e6} color={QC_LINE} lineWidth={0.9} smooth={false}
        title="FastQC: Per Sequence Quality Scores" titleY={146} xLabel="Mean Sequence Quality (Phred Score)" yLabel="Count" yLabelX={154}
        tickY={220.5} xLabelY={228.5} />
      {/* C */}
      {letter('C', 2, 245)}
      {heading('RNA-Seq', 143, 248.5)}
      <QcPlot box={[23, 269, 142, 332]} xDom={[0, 102.5]} yDom={[0, 50]} bandAxis="y"
        xTicks={[20, 40, 60, 80, 100]} yTicks={[0, 10, 20, 30, 40, 50]} yTickText={['0', '10', '20', '30', '40', '50']}
        xs={rnaMeanPos} lines={[rnaMeanL1, rnaMeanL2, rnaMeanL3]} scale={1} color={QC_LINE} lineWidth={1} smooth={true}
        title="FastQC: Mean Quality Scores" titleY={265.5} xLabel="Position (bp)" yLabel="Phred Score" yLabelX={13}
        tickY={339.5} xLabelY={346.5} />
      <QcPlot box={[170, 269, 286, 332]} xDom={[0, 41.4]} yDom={[0, 20e6]} bandAxis="x"
        xTicks={[0, 10, 20, 30, 40]} yTicks={[0, 5e6, 10e6, 15e6, 20e6]} yTickText={['0M', '5M', '10M', '15M', '20M']}
        xs={rnaSeqQ} lines={[rnaSeqL1, rnaSeqL2, rnaSeqL3, rnaSeqL4]} scale={1e6} color={QC_LINE} lineWidth={1} smooth={false}
        title="FastQC: Per Sequence Quality Scores" titleY={262} xLabel="Mean Sequence Quality (Phred Score)" yLabel="Count" yLabelX={154}
        tickY={339.5} xLabelY={346.5} />
      {/* D */}
      {letter('D', 2, 390)}
      {heading('RNA-Seq post trimming QC', 323, 389, 10.2)}
      <StackPlot title="Mapping statistics" titleX={110} labelX={47} xL0={49.3} xL70={186.7} xR0={190.7} xR1={206.7}
        sampleX={12.5} pctX={128}
        series={[mapUnmappedOther, mapUnmappedShort, mapUnmappedMismatch, mapMultiple, mapTooMany, mapUnique]}
        colors={[YELLOW, GREEN, LIME, BLUE, TEAL, NAVY]}
        legend={[
          { label: 'Uniquely mapped', color: NAVY, x: 16, row: 0 },
          { label: 'Mapped to multiple loci', color: BLUE, x: 78, row: 0 },
          { label: 'Mapped to too many loci', color: TEAL, x: 147, row: 0 },
          { label: 'Unmapped: too short', color: GREEN, x: 16, row: 1 },
          { label: 'Unmapped: mismatches', color: LIME, x: 78, row: 1 },
          { label: 'Unmapped: other', color: YELLOW, x: 147, row: 1 },
        ]} />
      <StackPlot title="Mapping location statistics" titleX={323} labelX={261} xL0={262.7} xL70={400.7} xR0={405} xR1={420.7}
        sampleX={226} pctX={342}
        series={[locTss, locIntergenic, locIntrons, locUtr3, locUtr5, locCds]}
        colors={[YELLOW, LIME, GREEN, TEAL, BLUE, NAVY]}
        legend={[
          { label: 'CDS exons', color: NAVY, x: 278, row: 0 },
          { label: "5' UTR", color: BLUE, x: 322, row: 0 },
          { label: "3' UTR", color: TEAL, x: 377, row: 0 },
          { label: 'Introns', color: GREEN, x: 278, row: 1 },
          { label: 'Other intergenic', color: LIME, x: 322, row: 1 },
          { label: 'TSS/TES', color: YELLOW, x: 377, row: 1 },
        ]} />
      <StackPlot title="Expression quantification statistics" titleX={537} labelX={475.5} xL0={477.3} xL70={615} xR0={619} xR1={634.3}
        sampleX={440} pctX={555}
        series={[exNoFeature, exNotUnique, exAmbiguous, exAssigned]}
        colors={[YELLOW, BRIGHT, STEEL, NAVY]}
        legend={[
          { label: 'Assigned', color: NAVY, x: 497, row: 0 },
          { label: 'Ambiguous', color: STEEL, x: 578, row: 0 },
          { label: 'Alignment not unique', color: BRIGHT, x: 497, row: 1 },
          { label: 'No feature', color: YELLOW, x: 578, row: 1 },
        ]} />
      {/* E */}
      {heading('Methylation QCs', 483, 12, 13)}
      {letter('E', 320, 20)}
      <PanelE />
      {/* F */}
      {letter('F', 320, 146)}
      <PanelF />
      {/* G */}
      {letter('G', 320, 270)}
      <DensityPlot box={[367, 478]} xDom={[-0.102, 1.104]} yDom={[-0.14, 3.6]} yTicks={[0, 0.5, 1, 1.5, 2, 2.5, 3, 3.5]}
        yFmt={v => v.toFixed(1)} lines={[beforeD1, beforeD2, beforeD3, beforeD4, beforeD5, beforeD6, beforeD7, beforeD8]} title="Before filtering" tickLabelX={361.8} tickFont={4.6} />
      <text transform={`translate(348,${(G_TOP + G_BOT) / 2}) rotate(-90)`} textAnchor="middle" fontFamily={HELV} fontSize={6} fill="#333">Density</text>
      <DensityPlot box={[514, 628]} xDom={[-0.13, 1.109]} yDom={[-0.25, 5.15]} yTicks={[0, 1, 2, 3, 4, 5]}
        yFmt={v => String(v)} lines={[afterD1, afterD2, afterD3, afterD4, afterD5, afterD6, afterD7]} title="After filtering" tickLabelX={508.5} tickFont={5.4} />
    </svg>
  );
}
